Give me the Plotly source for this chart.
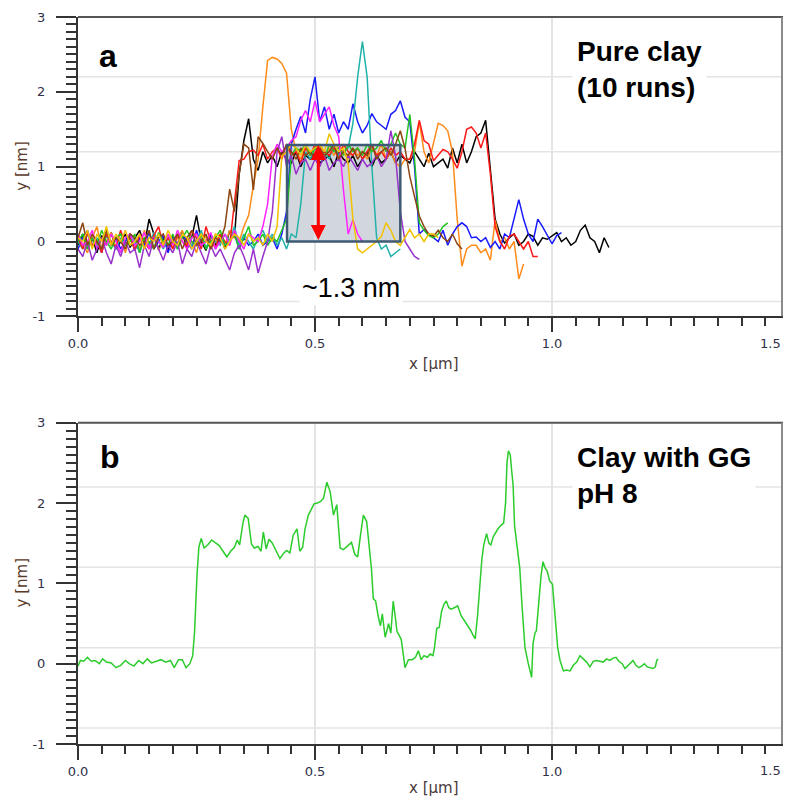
import numpy as np
import plotly.graph_objects as go

# ---------------- data ----------------
step_um = 0.01  # sampling step of the 10 profiles in panel a

run_black = [
    -0.05, 0.1, -0.1, 0.05, -0.15, 0.08, -0.05, 0.12, -0.1, 0.0,
    0.1, -0.08, 0.05, 0.15, -0.05, 0.3, 0.1, -0.1, 0.05, -0.12,
    0.08, -0.05, 0.12, -0.1, 0.05, 0.35, 0.0, -0.12, 0.1, -0.05,
    0.08, -0.1, 0.15, 0.05, 0.9, 1.35, 1.64, 1.1, 0.95, 1.2,
    1.05, 1.15, 1.0, 1.2, 1.1, 1.05, 1.2, 1.0, 1.15, 1.1,
    1.2, 1.05, 1.1, 1.15, 1.0, 1.2, 1.1, 1.05, 1.15, 1.0,
    1.1, 1.2, 1.0, 1.15, 1.05, 1.1, 1.2, 1.05, 1.15, 1.1,
    1.05, 1.2, 1.1, 1.0, 1.18, 1.0, 1.05, 1.1, 0.98, 1.25,
    1.05, 1.3, 1.05, 1.2, 1.4, 1.45, 1.62, 0.95, 0.3, 0.1,
    -0.02, 0.05, 0.1, -0.05, 0.0, 0.1, 0.07, -0.05, 0.05, 0.03,
    0.08, 0.12, 0.0, 0.05, -0.05, 0.0, 0.15, 0.22, 0.05, 0.0,
    -0.15, 0.05, -0.08,
]
run_red = [
    0.05, -0.1, 0.12, -0.05, 0.0, -0.15, 0.1, 0.0, -0.08, 0.15,
    -0.05, 0.05, -0.12, 0.1, 0.0, -0.1, 0.08, 0.2, -0.05, 0.05,
    -0.1, 0.1, 0.0, -0.05, 0.15, 0.05, -0.1, 0.2, 0.0, -0.08,
    0.1, 0.0, -0.05, 0.5, 1.08, 1.1, 1.2, 1.22, 1.15, 1.3,
    1.1, 1.2, 1.25, 1.1, 1.3, 1.15, 1.2, 1.05, 1.25, 1.15,
    1.3, 1.1, 1.2, 1.15, 1.25, 1.1, 1.3, 1.2, 1.15, 1.25,
    1.1, 1.2, 1.3, 1.15, 1.2, 1.1, 1.25, 1.15, 1.2, 1.1,
    1.1, 1.3, 1.62, 1.35, 1.3, 1.08, 1.15, 1.23, 1.2, 1.1,
    0.98, 1.2, 1.5, 1.53, 1.45, 1.25, 1.45, 0.9, 0.2, 0.0,
    -0.1, 0.07, 0.1, 0.0, -0.1, 0.0, -0.2, -0.2,
]
run_orange = [
    0.1, -0.05, -0.15, 0.05, 0.2, -0.1, 0.0, 0.12, -0.08, 0.05,
    -0.15, 0.1, 0.0, -0.1, 0.15, -0.05, 0.1, -0.12, 0.0, 0.08,
    -0.1, 0.05, 0.15, -0.05, 0.0, -0.15, 0.1, 0.05, -0.1, 0.0,
    0.1, -0.05, 0.15, 0.05, 0.0, 0.2, 0.35, 0.75, 1.1, 1.8,
    2.42, 2.46, 2.44, 2.38, 2.25, 1.5, 1.2, 1.1, 1.25, 1.15,
    1.2, 1.3, 1.1, 1.25, 1.15, 1.3, 1.2, 1.1, 1.25, 1.15,
    1.2, 1.1, 1.25, 1.15, 1.3, 1.1, 1.2, 1.05, 1.0, 1.1,
    1.1, 1.2, 1.6, 1.2, 1.05, 1.3, 1.58, 1.55, 1.48, 1.2,
    0.3, -0.33, -0.1, -0.05, -0.05, -0.15, -0.1, -0.25, 0.29, 0.0,
    0.05, -0.1, 0.0, -0.5, -0.3,
]
run_blue = [
    -0.1, 0.05, 0.15, -0.05, 0.0, -0.15, 0.1, -0.05, 0.05, -0.1,
    0.0, 0.1, -0.12, 0.05, -0.05, 0.12, -0.1, 0.0, 0.08, -0.15,
    0.05, -0.05, 0.1, 0.0, -0.1, 0.15, -0.05, 0.0, 0.1, -0.1,
    0.05, -0.05, 0.0, 0.1, -0.1, 0.05, -0.05, 0.0, 0.1, -0.05,
    0.0, 0.05, -0.1, 0.1, 0.4, 1.3, 1.5, 1.67, 1.45, 1.9,
    2.2, 1.6, 1.8, 1.5, 1.7, 1.45, 1.6, 1.5, 1.84, 1.6,
    1.45, 1.55, 1.71, 1.6, 1.55, 1.5, 1.7, 1.75, 1.88, 1.66,
    1.6, 1.0, 0.1, 0.16, 0.1, 0.05, 0.0, 0.15, -0.05, 0.1,
    0.2, 0.25, 0.2, 0.05, 0.06, 0.0, 0.05, -0.08, 0.0, -0.1,
    0.1, 0.05, 0.3, 0.56, 0.3, 0.1, 0.0, 0.3, 0.2, 0.08,
    -0.03, 0.08, 0.12,
]
run_teal = [
    0.0, -0.1, 0.1, -0.05, 0.05, -0.12, 0.08, 0.0, -0.1, 0.05,
    -0.05, 0.1, 0.0, -0.15, 0.05, -0.05, 0.12, 0.0, -0.1, 0.05,
    0.0, -0.1, 0.1, 0.05, -0.05, 0.0, 0.15, -0.1, 0.05, 0.0,
    -0.05, 0.1, 0.0, 0.2, -0.05, 0.1, 0.0, -0.1, 0.05, 0.15,
    0.0, 0.1, -0.05, 0.05, -0.1, 0.1, 0.05, 0.5, 1.2, 1.1,
    1.25, 1.15, 1.2, 1.1, 1.3, 1.15, 1.2, 1.25, 1.58, 2.2,
    2.67, 2.2, 1.0, 0.05, -0.1, -0.05, -0.2, -0.15, -0.1,
]
run_magenta = [
    0.1, -0.05, 0.0, 0.15, -0.1, 0.05, -0.05, 0.1, 0.0, -0.15,
    0.05, 0.1, -0.05, 0.0, 0.12, -0.1, 0.05, 0.0, -0.08, 0.1,
    -0.05, 0.15, 0.0, -0.1, 0.05, 0.1, -0.05, 0.0, 0.12, -0.1,
    0.0, 0.1, -0.05, 0.15, 0.0, -0.1, 0.1, 0.05, 0.0, 0.2,
    0.5, 1.14, 1.3, 1.2, 1.25, 1.35, 1.4, 1.62, 1.75, 1.6,
    1.88, 1.6, 1.7, 1.8, 1.55, 1.4, 0.69, 0.1, 0.29, 0.1,
    0.0,
]
run_purple = [
    -0.1, -0.2, 0.0, -0.25, -0.1, 0.05, -0.15, -0.3, -0.05, -0.2,
    0.0, -0.15, -0.1, -0.35, -0.05, -0.2, 0.05, -0.1, -0.25, -0.05,
    -0.15, 0.0, -0.3, -0.1, -0.2, 0.0, -0.15, -0.3, -0.05, -0.2,
    -0.1, -0.25, -0.38, -0.15, -0.05, -0.2, -0.38, -0.1, -0.42, -0.2,
    0.0, 0.4, 1.2, 1.4, 1.0, 1.15, 0.9, 1.05, 1.1, 0.95,
    1.1, 1.0, 1.15, 0.95, 1.05, 1.1, 1.0, 1.15, 1.05, 0.95,
    1.1, 1.0, 1.05, 1.15, 1.0, 1.1, 1.48, 1.14, 0.4, 0.0,
    -0.1, -0.2, -0.24,
]
run_brown = [
    0.05, 0.25, -0.05, 0.1, 0.0, -0.1, 0.15, -0.05, 0.05, 0.0,
    -0.1, 0.1, 0.05, -0.05, 0.0, 0.15, -0.1, 0.05, 0.1, -0.05,
    0.0, 0.1, -0.1, 0.05, 0.15, -0.05, 0.0, 0.1, -0.1, 0.05,
    0.0, 0.2, 0.7, 0.4, 0.9, 1.3, 1.25, 0.69, 1.4, 1.31,
    1.2, 1.1, 1.25, 1.15, 1.3, 1.2, 1.1, 1.25, 1.15, 1.2,
    1.1, 1.25, 1.15, 1.2, 1.3, 1.1, 1.2, 1.15, 1.25, 1.1,
    1.2, 1.15, 1.3, 1.1, 1.2, 1.25, 1.15, 1.3, 1.48, 1.24,
    0.87, 0.6, 0.34, 0.2, 0.1, 0.07, 0.15, 0.05, 0.0, 0.1,
    -0.03, -0.1,
]
run_green = [
    0.0, 0.1, -0.1, 0.05, -0.05, 0.15, 0.0, -0.1, 0.05, 0.1,
    -0.05, 0.0, 0.1, -0.15, 0.05, 0.0, -0.1, 0.12, 0.0, -0.05,
    0.1, -0.1, 0.05, 0.15, 0.0, -0.05, 0.1, -0.1, 0.0, 0.05,
    0.15, -0.05, 0.0, 0.1, -0.1, 0.05, 0.2, -0.05, 0.0, 0.1,
    -0.05, 0.05, 0.0, 0.15, 0.3, 1.15, 1.25, 1.2, 1.3, 1.15,
    1.25, 1.2, 1.1, 1.3, 1.2, 1.25, 1.15, 1.3, 1.2, 1.25,
    1.15, 1.3, 1.2, 1.25, 1.35, 1.2, 1.3, 1.45, 1.3, 1.25,
    1.7, 1.1, 0.25, 0.15, 0.08, 0.05, 0.1, 0.2, 0.25,
]
run_yellow = [
    0.05, 0.0, 0.15, -0.1, 0.1, 0.0, 0.2, -0.05, 0.1, 0.0,
    0.15, -0.05, 0.0, 0.1, -0.1, 0.05, 0.0, 0.1, -0.05, 0.15,
    0.0, -0.05, 0.1, 0.05, -0.1, 0.0, 0.1, 0.0, -0.05, 0.1,
    0.05, -0.1, 0.0, 0.1, 0.05, -0.05, 0.1, 0.0, 0.05, -0.05,
    0.1, 0.0, 0.2, 1.14, 1.2, 1.3, 1.25, 1.15, 1.3, 1.2,
    1.25, 1.3, 1.2, 1.44, 1.3, 1.2, 1.25, 1.04, 0.3, -0.1,
    -0.15, -0.1, -0.05, 0.0, 0.07, 0.25, 0.15, 0.0, -0.05, 0.05,
    0.16, 0.05, 0.1, 0.0, 0.1, 0.1, 0.05,
]

runs = [
    ("black", run_black), ("#ff8c1a", run_orange), ("#1a1aff", run_blue),
    ("#20b2aa", run_teal), ("#ff1a1a", run_red), ("#22c422", run_green),
    ("#ff22ff", run_magenta), ("#9932cc", run_purple), ("#8b4513", run_brown),
    ("#f2c200", run_yellow),
]

# panel b: clay with GG, pH 8
gg_x = [0.000, 0.005, 0.012, 0.020, 0.028, 0.036, 0.045, 0.052, 0.060, 0.070,
        0.080, 0.090, 0.100, 0.108, 0.118, 0.128, 0.137, 0.146, 0.155, 0.165,
        0.175, 0.185, 0.195, 0.203, 0.212, 0.220, 0.228, 0.236, 0.242, 0.246,
        0.248, 0.251, 0.255, 0.260, 0.266, 0.274, 0.282, 0.290, 0.298, 0.306,
        0.314, 0.322, 0.330, 0.336, 0.341, 0.348, 0.352, 0.359, 0.366, 0.372,
        0.380, 0.386, 0.391, 0.397, 0.403, 0.410, 0.418, 0.426, 0.433, 0.440,
        0.447, 0.454, 0.462, 0.468, 0.474, 0.479, 0.486, 0.492, 0.498, 0.505,
        0.512, 0.518, 0.525, 0.532, 0.539, 0.546, 0.553, 0.560, 0.567, 0.577,
        0.584, 0.590, 0.596, 0.602, 0.609, 0.614, 0.619, 0.623, 0.628, 0.633,
        0.638, 0.642, 0.648, 0.652, 0.655, 0.660, 0.665, 0.669, 0.673, 0.676,
        0.682, 0.690, 0.697, 0.705, 0.712, 0.718, 0.724, 0.730, 0.737, 0.743,
        0.749, 0.752, 0.757, 0.762, 0.767, 0.772, 0.777, 0.782, 0.787, 0.795,
        0.801, 0.808, 0.814, 0.820, 0.828, 0.834, 0.838, 0.843, 0.848, 0.852,
        0.856, 0.862, 0.867, 0.871, 0.876, 0.880, 0.886, 0.892, 0.898, 0.902,
        0.905, 0.908, 0.912, 0.915, 0.918, 0.921, 0.926, 0.932, 0.937, 0.943,
        0.950, 0.957, 0.960, 0.964, 0.967, 0.972, 0.977, 0.981, 0.985, 0.990,
        0.995, 1.001, 1.006, 1.012, 1.017, 1.024, 1.031, 1.038, 1.045, 1.052,
        1.059, 1.066, 1.073, 1.080, 1.087, 1.094, 1.101, 1.108, 1.115, 1.122,
        1.129, 1.135, 1.141, 1.148, 1.154, 1.160, 1.166, 1.171, 1.177, 1.183,
        1.189, 1.195, 1.201, 1.207, 1.213, 1.218, 1.221, 1.224]
gg_y = [-0.03, 0.04, 0.03, 0.08, 0.03, 0.04, 0.0, 0.06, 0.02, 0.01,
        -0.05, -0.02, 0.04, 0.0, -0.03, 0.04, 0.0, 0.06, 0.01, 0.03,
        0.05, 0.02, 0.04, -0.05, 0.05, 0.05, -0.05, 0.0, 0.1, 0.4,
        0.8, 1.1, 1.45, 1.56, 1.44, 1.48, 1.54, 1.5, 1.47, 1.4,
        1.33, 1.4, 1.45, 1.54, 1.48, 1.75, 1.85, 1.81, 1.49, 1.44,
        1.46, 1.4, 1.64, 1.43, 1.55, 1.5, 1.4, 1.31, 1.37, 1.41,
        1.38, 1.6, 1.68, 1.4, 1.45, 1.68, 1.85, 1.93, 1.99, 2.0,
        2.02, 2.06, 2.26, 2.14, 1.85, 1.98, 1.44, 1.42, 1.46, 1.51,
        1.36, 1.33, 1.6, 1.85, 1.77, 1.5, 1.19, 0.81, 0.78, 0.6,
        0.47, 0.62, 0.33, 0.42, 0.5, 0.38, 0.78, 0.6, 0.4, 0.37,
        0.3, -0.05, 0.05, 0.05, 0.08, 0.16, 0.05, 0.1, 0.08, 0.12,
        0.1, 0.2, 0.44, 0.45, 0.65, 0.74, 0.78, 0.7, 0.68, 0.7,
        0.72, 0.6, 0.55, 0.49, 0.42, 0.35, 0.31, 0.6, 0.99, 1.3,
        1.48, 1.62, 1.5, 1.48, 1.58, 1.62, 1.68, 1.72, 1.75, 2.0,
        2.5, 2.65, 2.6, 2.4, 2.22, 1.72, 1.45, 1.19, 0.7, 0.2,
        0.0, -0.17, 0.25, 0.38, 0.41, 0.8, 1.1, 1.27, 1.2, 1.15,
        1.03, 0.99, 0.6, 0.2, 0.04, -0.09, -0.08, -0.09, -0.02, 0.02,
        0.1, 0.06, 0.02, -0.04, 0.03, 0.04, 0.03, 0.02, 0.06, 0.04,
        0.07, 0.08, 0.03, 0.0, -0.06, -0.02, 0.02, 0.04, -0.02, -0.05,
        -0.03, 0.0, -0.04, -0.05, -0.06, -0.04, 0.04, 0.06]

x_tick_vals = [0.0, 0.5, 1.0, 1.5]
x_tick_text = ["0.0", "0.5", "1.0", "1.5"]
y_tick_vals = [-1, 0, 1, 2, 3]
y_tick_text = ["-1", "0", "1", "2", "3"]
grid_y = [-0.8, 0.2, 1.2, 2.2]
step_box = dict(x0=0.441, x1=0.68, y0=0.0, y1=1.29)
step_arrow_x = 0.507

# ---------------- figure ----------------
# the page body has an 8 px margin; sizes below compensate for it
fig = go.Figure()
for color, ys in runs:
    xs = np.round(np.arange(len(ys)) * step_um, 3)
    fig.add_trace(go.Scatter(x=xs, y=ys, mode="lines", xaxis="x", yaxis="y",
                             line=dict(color=color, width=1.5), showlegend=False,
                             hoverinfo="skip"))
fig.add_trace(go.Scatter(x=gg_x, y=gg_y, mode="lines", xaxis="x2", yaxis="y2",
                         line=dict(color="#2ccc2c", width=1.5), showlegend=False))

tick_font = dict(family="DejaVu Sans", size=13, color="#30304a")
axis_line = "#333333"

def xaxis_style(anchor):
    return dict(anchor=anchor, domain=[0, 1], range=[0, 1.5],
                tickmode="array", tickvals=x_tick_vals, ticktext=x_tick_text,
                ticks="outside", ticklen=14, tickwidth=1.5, tickcolor=axis_line,
                showline=True, linecolor=axis_line, linewidth=2,
                showgrid=True, gridcolor="#e4e4e4", gridwidth=1.5,
                zeroline=False, tickfont=tick_font,
                minor=dict(dtick=0.05, tick0=0, ticks="outside", ticklen=8,
                           tickwidth=1.5, tickcolor=axis_line, showgrid=False))

def yaxis_style(anchor, domain):
    return dict(anchor=anchor, domain=domain, range=[-1, 3],
                tickmode="array", tickvals=y_tick_vals, ticktext=y_tick_text,
                ticks="outside", ticklen=20, tickwidth=1.5, tickcolor=axis_line,
                showline=True, linecolor=axis_line, linewidth=2,
                showgrid=False, zeroline=False, tickfont=tick_font,
                ticklabelstandoff=8,
                minor=dict(dtick=0.1, tick0=0, ticks="outside", ticklen=10,
                           tickwidth=1.5, tickcolor=axis_line, showgrid=False))

top_dom = [(744 - 314) / 731, 1.0]
bot_dom = [0.0, (744 - 421) / 731]

fig.update_layout(
    width=783, height=791,
    margin=dict(l=70, r=2, t=5, b=55),
    paper_bgcolor="white", plot_bgcolor="white",
    xaxis=xaxis_style("y"), yaxis=yaxis_style("x", top_dom),
    xaxis2=xaxis_style("y2"), yaxis2=yaxis_style("x2", bot_dom),
)

right_edge = (782 - 78) / 711  # visible right frame line
shapes = []
for xr, yr in (("x", "y"), ("x2", "y2")):
    for gy in grid_y:
        shapes.append(dict(type="line", xref=f"{xr} domain", yref=yr, x0=0, x1=1,
                           y0=gy, y1=gy, line=dict(color="#e4e4e4", width=1.5),
                           layer="below"))
    shapes.append(dict(type="line", xref=f"{xr} domain", yref=f"{yr} domain",
                       x0=0, x1=1, y0=1, y1=1, line=dict(color="#555555", width=2)))
    shapes.append(dict(type="line", xref=f"{xr} domain", yref=f"{yr} domain",
                       x0=right_edge, x1=right_edge, y0=0, y1=1,
                       line=dict(color="#8a8a8a", width=2)))
# shaded step box
shapes.append(dict(type="rect", xref="x", yref="y", **step_box,
                   fillcolor="#d2d7de", line=dict(width=0), layer="below"))
shapes.append(dict(type="rect", xref="x", yref="y", **step_box,
                   fillcolor="rgba(0,0,0,0)", line=dict(color="#3e5a74", width=2.5)))
fig.update_layout(shapes=shapes)

label_font = dict(family="Liberation Sans", size=28, color="black")
panel_font = dict(family="Liberation Sans", size=32, color="black")
ann = [
    dict(text="<b>a</b>", xref="x domain", yref="y domain", x=(108 - 78) / 711,
         y=1 - 19 / 301, xanchor="center", yanchor="top", showarrow=False,
         font=panel_font),
    dict(text="<b>b</b>", xref="x2 domain", yref="y2 domain", x=(110 - 78) / 711,
         y=1 - 14 / 323, xanchor="center", yanchor="top", showarrow=False,
         font=panel_font),
    dict(text="<b>Pure clay<br>(10 runs)</b>", xref="x domain", yref="y domain",
         x=(572 - 78) / 711, y=(314 - 27) / 301, xanchor="left", yanchor="top",
         align="left", showarrow=False, font=label_font, bgcolor="white", borderpad=4),
    dict(text="<b>Clay with GG<br>pH 8</b>", xref="x2 domain", yref="y2 domain",
         x=(572 - 78) / 711, y=(744 - 435) / 323, xanchor="left", yanchor="top",
         align="left", showarrow=False, font=label_font, bgcolor="white", borderpad=4),
    dict(text="~1.3 nm", xref="x", yref="y domain", x=0.576, y=(314 - 285) / 301,
         xanchor="center", yanchor="middle", showarrow=False,
         font=dict(family="Liberation Sans", size=27, color="black"),
         bgcolor="white", borderpad=2),
    dict(x=step_arrow_x, y=step_box["y1"], ax=step_arrow_x, ay=step_box["y0"],
         xref="x", yref="y", axref="x", ayref="y", text="", showarrow=True,
         arrowhead=2, arrowside="end+start", arrowsize=1, arrowwidth=3,
         arrowcolor="#ff0000"),
]
title_font = dict(family="DejaVu Sans", size=15, color="#4a3a3a")
for xr, yr, h, dy in (("x", "y", 301, 48), ("x2", "y2", 323, 44)):
    ann.append(dict(text="x [μm]", xref=f"{xr} domain", yref=f"{yr} domain",
                    x=0.5, y=-dy / h, showarrow=False, font=title_font,
                    xanchor="center", yanchor="middle"))
    ann.append(dict(text="y [nm]", xref=f"{xr} domain", yref=f"{yr} domain",
                    x=(22 - 78) / 711, y=0.5, textangle=-90, showarrow=False,
                    xanchor="center", yanchor="middle",
                    font=dict(family="DejaVu Sans", size=15, color="#5a3a2a")))
    # last x tick label sits at the figure edge; draw it pulled inward
    ann.append(dict(text=x_tick_text[-1], xref=xr, yref=f"{yr} domain",
                    x=x_tick_vals[-1], y=-27 / h, showarrow=False, font=tick_font,
                    xanchor="right", yanchor="middle", xshift=-6))
fig.update_layout(annotations=ann)

fig.write_html("out.html")
